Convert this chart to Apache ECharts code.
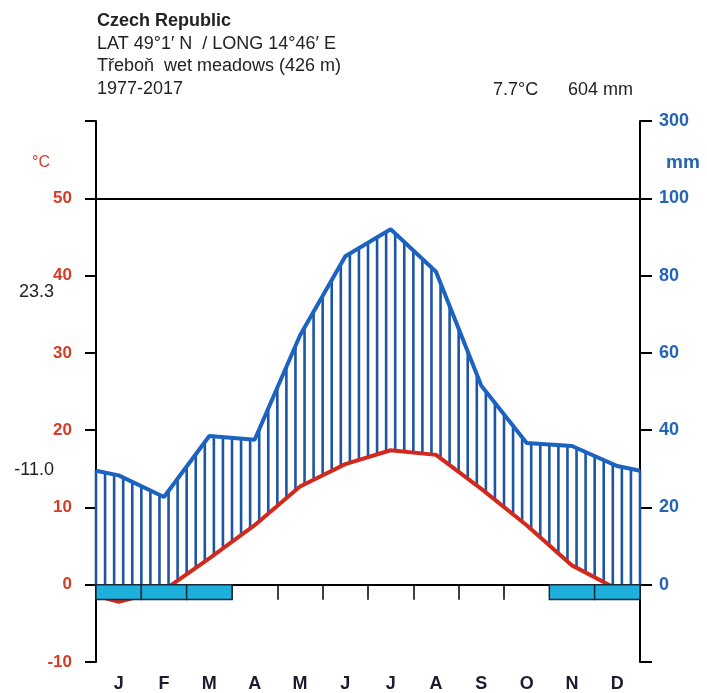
<!DOCTYPE html>
<html>
<head>
<meta charset="utf-8">
<script src="https://cdn.jsdelivr.net/npm/echarts@6/dist/echarts.min.js"></script>
<style>
  html, body { margin: 0; padding: 0; background: #fff; }
  #chart { width: 707px; height: 693px; }
</style>
</head>
<body>
<div id="chart"></div>
<script>
// Walter–Lieth climate diagram, Třeboň wet meadows, 1977–2017
const months = ['J', 'F', 'M', 'A', 'M', 'J', 'J', 'A', 'S', 'O', 'N', 'D'];
const temperature = [-2.2, -0.7, 3.4, 7.7, 12.7, 15.6, 17.4, 16.8, 12.4, 7.7, 2.5, -0.6];   // °C
const precipitation = [28.3, 22.7, 38.5, 37.5, 64.5, 85, 92, 81, 51.5, 36.7, 35.9, 30.7];  // mm
const frostMonths = [1, 1, 1, 0, 0, 0, 0, 0, 0, 0, 1, 1];
const headerLines = ['Czech Republic', 'LAT 49°1′ N  / LONG 14°46′ E', 'Třeboň  wet meadows (426 m)', '1977-2017'];
const annualTemp = '7.7°C';
const annualPrecip = '604 mm';
const absMaxTemp = '23.3';
const absMinTemp = '-11.0';
const precipTopLabel = '300';

const FONT = '"Liberation Sans", Arial, sans-serif';
const RED = '#d63c26';
const BLUE = '#2464b4';

// monthly values sit at mid-month; the curve is closed at both edges
// by the Dec/Jan mean so it wraps around the year
function wrapYear(vals) {
  const edge = (vals[11] + vals[0]) / 2;
  return [[0, edge]].concat(vals.map((v, i) => [i + 0.5, v]), [[12, edge]]);
}
function interp(pts, x) {
  for (let i = 1; i < pts.length; i++) {
    if (x <= pts[i][0]) {
      const t = (x - pts[i - 1][0]) / (pts[i][0] - pts[i - 1][0]);
      return pts[i - 1][1] + t * (pts[i][1] - pts[i - 1][1]);
    }
  }
  return pts[pts.length - 1][1];
}

const tempPts = wrapYear(temperature);
const precPts = wrapYear(precipitation);
// humid-period hatching: five strokes per month
const hatchPos = [];
for (let k = 0; k <= 60; k++) hatchPos.push([k / 5, 0]);

const chart = echarts.init(document.getElementById('chart'), null, { renderer: 'canvas' });

function label(x, y, text, opts) {
  return {
    type: 'text',
    style: Object.assign({
      x: x, y: y, text: text, fontFamily: FONT, fontSize: 18, fontWeight: 'normal',
      fill: '#222', align: 'left', verticalAlign: 'middle'
    }, opts || {})
  };
}

const headerGraphics = headerLines.map((t, i) =>
  label(97, 21 + i * 22.6, t, { fontWeight: i === 0 ? 'bold' : 'normal' }));

const option = {
  animation: false,
  backgroundColor: '#fff',
  grid: { left: 96, right: 67, top: 121, bottom: 28 },
  xAxis: [
    {
      type: 'value', min: 0, max: 12, interval: 1, position: 'bottom',
      axisLine: { show: true, onZero: true, onZeroAxisIndex: 0, lineStyle: { color: '#000', width: 2 } },
      axisTick: { show: true, inside: false, length: 15, lineStyle: { color: '#000', width: 1.5 } },
      axisLabel: { show: false },
      splitLine: { show: false }
    },
    {
      type: 'category', data: months, position: 'bottom',
      axisLine: { show: false, onZero: false },
      axisTick: { show: false },
      axisLabel: { margin: 13, fontFamily: FONT, fontSize: 18, fontWeight: 'bold', color: '#1c1c30' }
    }
  ],
  yAxis: [
    {
      type: 'value', position: 'left', min: -10, max: 60, interval: 10,
      axisLine: { show: true, lineStyle: { color: '#000', width: 2 } },
      axisTick: { show: true, inside: false, length: 11, lineStyle: { color: '#000', width: 2 } },
      axisLabel: {
        margin: 24, fontFamily: FONT, fontSize: 17, fontWeight: 'bold', color: RED,
        formatter: v => (v === 60 ? '' : String(v))
      },
      splitLine: { show: false }
    },
    {
      type: 'value', position: 'right', min: -20, max: 120, interval: 20,
      axisLine: { show: true, lineStyle: { color: '#000', width: 2 } },
      axisTick: { show: true, inside: false, length: 12, lineStyle: { color: '#000', width: 2 } },
      axisLabel: {
        margin: 19, fontFamily: FONT, fontSize: 18, fontWeight: 'bold', color: BLUE,
        formatter: v => (v === 120 ? precipTopLabel : v < 0 ? '' : String(v))
      },
      splitLine: { show: false }
    }
  ],
  series: [
    {
      name: 'humid',
      type: 'custom', xAxisIndex: 0, yAxisIndex: 0, z: 2, silent: true,
      data: hatchPos, encode: { x: 0, y: 1 },
      renderItem: (params, api) => {
        const x = api.value(0);
        const t = interp(tempPts, x);
        const p = interp(precPts, x) / 2; // 2 mm per °C
        if (p <= t) return null;
        const a = api.coord([x, Math.max(t, 0)]);
        const b = api.coord([x, p]);
        return {
          type: 'line',
          shape: { x1: a[0], y1: a[1], x2: b[0], y2: b[1] },
          style: { stroke: '#1d55a3', lineWidth: 2.6 }
        };
      }
    },
    {
      name: 'precipitation',
      type: 'line', xAxisIndex: 0, yAxisIndex: 1, z: 3,
      data: precPts, showSymbol: false, silent: true,
      lineStyle: { color: '#1a63c0', width: 4 }
    },
    {
      name: 'temperature',
      type: 'line', xAxisIndex: 0, yAxisIndex: 0, z: 4,
      data: tempPts, showSymbol: false, silent: true,
      lineStyle: { color: '#d3291c', width: 4 },
      markLine: {
        silent: true, symbol: 'none', label: { show: false },
        lineStyle: { color: '#000', width: 2, type: 'solid' },
        data: [{ yAxis: 50 }]
      }
    },
    {
      name: 'frost',
      type: 'custom', xAxisIndex: 0, yAxisIndex: 0, z: 5, silent: true,
      data: frostMonths.map((f, i) => [i, f]).filter(d => d[1] === 1),
      encode: { x: 0, y: 1 },
      renderItem: (params, api) => {
        const m = api.value(0);
        const a = api.coord([m, 0]);
        const b = api.coord([m + 1, -1.9]);
        return {
          type: 'rect',
          shape: { x: a[0], y: a[1], width: b[0] - a[0], height: b[1] - a[1] },
          style: { fill: '#1db0dc', stroke: '#1b2a38', lineWidth: 1.5 }
        };
      }
    }
  ],
  graphic: headerGraphics.concat([
    label(493, 90, annualTemp),
    label(568, 90, annualPrecip),
    label(32, 163, '°C', { fontSize: 16, fill: RED }),
    label(666, 163, 'mm', { fontSize: 19, fontWeight: 'bold', fill: BLUE }),
    label(54, 292, absMaxTemp, { align: 'right' }),
    label(54, 470, absMinTemp, { align: 'right' })
  ])
};

chart.setOption(option);
</script>
</body>
</html>
